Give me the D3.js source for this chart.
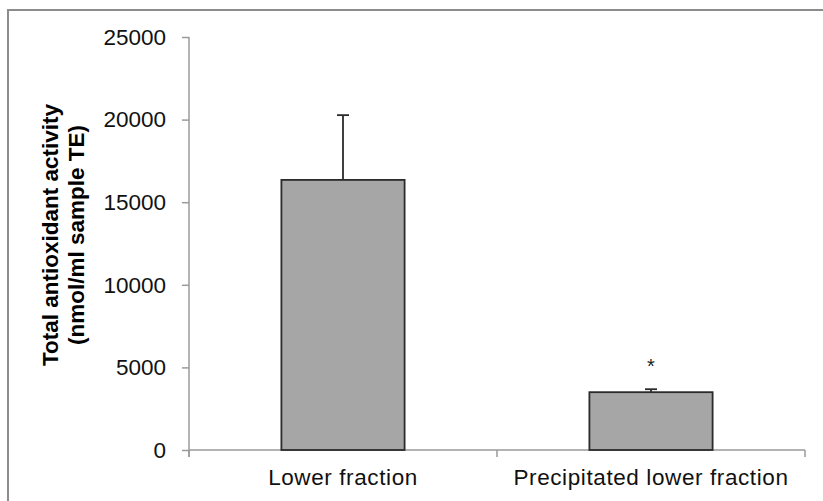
<!DOCTYPE html>
<html>
<head>
<meta charset="utf-8">
<script src="https://cdn.jsdelivr.net/npm/d3@7"></script>
<style>
	html, body { margin: 0; padding: 0; background: #fff; }
	svg { display: block; font-family: "Liberation Sans", Arial, sans-serif; }
</style>
</head>
<body>
<div id="chart"></div>
<script>
const categories = ["Lower fraction", "Precipitated lower fraction"];
const means = [16350, 3500];
const errors = [3920, 180];
const marks = ["", "*"];
const yTicks = [0, 5000, 10000, 15000, 20000, 25000];

const width = 823;
const height = 501;
const margin = { top: 37, right: 18, bottom: 51, left: 189 };

const svg = d3
	.select("#chart")
	.append("svg")
	.attr("width", width)
	.attr("height", height);

// outer chart frame
svg
	.append("rect")
	.attr("x", 8)
	.attr("y", 10)
	.attr("width", width + 20)
	.attr("height", height + 20)
	.attr("fill", "none")
	.attr("stroke", "#8c8c8c")
	.attr("stroke-width", 2);

const xScale = d3
	.scaleBand()
	.domain(categories)
	.range([margin.left, width - margin.right])
	.paddingInner(0.6)
	.paddingOuter(0.3);

const yScale = d3
	.scaleLinear()
	.domain([0, 25000])
	.range([height - margin.bottom, margin.top]);

const y0 = yScale(0);

// y axis
const yAxis = svg
	.append("g")
	.attr("transform", `translate(${margin.left},0)`)
	.call(d3.axisLeft(yScale).tickValues(yTicks).tickSize(7).tickPadding(16).tickFormat(d3.format("d")));
yAxis.select(".domain").attr("stroke", "#9a9a9a").attr("stroke-width", 1.5)
	.attr("d", `M0,${yScale(25000)}V${y0 + 7}`);
yAxis.selectAll(".tick line").attr("stroke", "#9a9a9a").attr("stroke-width", 1.5);
yAxis.selectAll(".tick text")
	.attr("fill", "#111")
	.style("font-size", "22.5px");

// x axis line + ticks at band boundaries
const step = xScale.step();
const xAxisG = svg.append("g");
xAxisG
	.append("line")
	.attr("x1", margin.left)
	.attr("x2", width - margin.right)
	.attr("y1", y0)
	.attr("y2", y0)
	.attr("stroke", "#9a9a9a")
	.attr("stroke-width", 1.5);
xAxisG
	.selectAll("line.tk")
	.data(d3.range(categories.length + 1))
	.enter()
	.append("line")
	.attr("class", "tk")
	.attr("x1", (i) => margin.left + i * step)
	.attr("x2", (i) => margin.left + i * step)
	.attr("y1", y0)
	.attr("y2", y0 + 7)
	.attr("stroke", "#9a9a9a")
	.attr("stroke-width", 1.5);
xAxisG
	.selectAll("text")
	.data(categories)
	.enter()
	.append("text")
	.attr("x", (d) => xScale(d) + xScale.bandwidth() / 2)
	.attr("y", y0 + 35)
	.attr("text-anchor", "middle")
	.attr("fill", "#111")
	.style("font-size", "22.5px")
	.style("letter-spacing", "0.6px")
	.text((d) => d);

// bars
svg
	.append("g")
	.selectAll("rect")
	.data(categories)
	.enter()
	.append("rect")
	.attr("x", (d) => xScale(d))
	.attr("y", (d, i) => yScale(means[i]))
	.attr("width", xScale.bandwidth())
	.attr("height", (d, i) => y0 - yScale(means[i]))
	.attr("fill", "#a6a6a6")
	.attr("stroke", "#2b2b2b")
	.attr("stroke-width", 1.8);

// error bars (upper only)
const eb = svg.append("g").attr("stroke", "#2b2b2b").attr("stroke-width", 1.8);
categories.forEach((c, i) => {
	const cx = xScale(c) + xScale.bandwidth() / 2;
	eb.append("line")
		.attr("x1", cx).attr("x2", cx)
		.attr("y1", yScale(means[i])).attr("y2", yScale(means[i] + errors[i]));
	eb.append("line")
		.attr("x1", cx - 6).attr("x2", cx + 6)
		.attr("y1", yScale(means[i] + errors[i])).attr("y2", yScale(means[i] + errors[i]));
});

// significance marks
svg
	.append("g")
	.selectAll("text")
	.data(categories)
	.enter()
	.append("text")
	.attr("x", (d) => xScale(d) + xScale.bandwidth() / 2)
	.attr("y", (d, i) => yScale(means[i] + errors[i]) - 16)
	.attr("text-anchor", "middle")
	.attr("fill", "#222")
	.style("font-size", "20px")
	.text((d, i) => marks[i]);

// y title
const title = svg
	.append("text")
	.attr("transform", "translate(58,235) rotate(-90)")
	.attr("text-anchor", "middle")
	.attr("fill", "#000")
	.style("font-size", "22.5px")
	.style("font-weight", "bold");
title.append("tspan").attr("x", 0).attr("y", 0).text("Total antioxidant activity");
title.append("tspan").attr("x", 0).attr("y", 26).text("(nmol/ml sample TE)");
</script>
</body>
</html>
